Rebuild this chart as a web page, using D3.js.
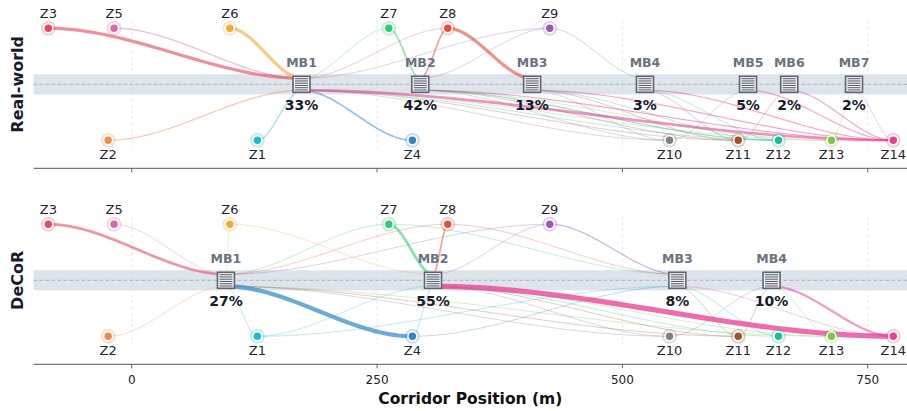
<!DOCTYPE html>
<html><head><meta charset="utf-8">
<script src="https://cdn.jsdelivr.net/npm/d3@7"></script>
<style>body{margin:0;background:#fff;} svg{display:block;font-family:"DejaVu Sans",sans-serif;}</style>
</head><body><svg id="c" width="907" height="411"></svg>
<script>
// ---------------- data ----------------
const zones      = ["Z1","Z2","Z3","Z4","Z5","Z6","Z7","Z8","Z9","Z10","Z11","Z12","Z13","Z14"];
const zonePos    = [128, -24, -85, 286, -18, 100, 262, 322, 426, 548, 618, 659, 713, 776];
const zoneRow    = [-1, -1, 1, -1, 1, 1, 1, 1, 1, -1, -1, -1, -1, -1];
const zoneColors = ["#17becf","#f28a4c","#e8485f","#2f86c8","#d96aa9","#f5a93a","#2ecc71",
                    "#e74c3c","#9b59b6","#808080","#a0522d","#1abc9c","#7dc744","#e84393"];

const realHubs   = ["MB1","MB2","MB3","MB4","MB5","MB6","MB7"];
const realPos    = [173, 294, 408, 523, 628, 670, 736];
const realShare  = ["33%","42%","13%","3%","5%","2%","2%"];
const realLinks  = [
  ["Z3","MB1",6],["Z5","MB1",2],["Z6","MB1",6],["Z2","MB1",2],["Z1","MB1",2],
  ["Z7","MB1",1],["Z8","MB1",1],["Z9","MB1",1],["Z4","MB1",3],
  ["Z10","MB1",1],["Z11","MB1",1],["Z12","MB1",1],["Z13","MB1",1],["Z14","MB1",5],
  ["Z7","MB2",3],["Z8","MB2",3],["Z9","MB2",1],
  ["Z10","MB2",1],["Z11","MB2",1],["Z12","MB2",2],["Z13","MB2",1],["Z14","MB2",2],
  ["Z8","MB3",6],["Z10","MB3",1],["Z11","MB3",1],["Z12","MB3",1],["Z14","MB3",2],
  ["Z9","MB4",1],["Z11","MB4",1],["Z12","MB4",1],["Z14","MB4",2],
  ["Z10","MB5",1],["Z14","MB5",2],
  ["Z11","MB6",1],["Z14","MB6",2],
  ["Z13","MB7",1],["Z14","MB7",1]
];

const decorHubs  = ["MB1","MB2","MB3","MB4"];
const decorPos   = [96, 307, 556, 652];
const decorShare = ["27%","55%","8%","10%"];
const decorLinks = [
  ["Z3","MB1",5],["Z5","MB1",1],["Z2","MB1",1],["Z6","MB1",1],["Z1","MB1",1],["Z4","MB1",8],
  ["Z7","MB1",1],["Z8","MB1",1],["Z9","MB1",1],
  ["Z10","MB1",1],["Z11","MB1",1],["Z13","MB1",1],
  ["Z6","MB2",1],["Z1","MB2",1],["Z7","MB2",5],["Z8","MB2",3],["Z9","MB2",1],["Z4","MB2",1],
  ["Z10","MB2",1],["Z11","MB2",1],["Z12","MB2",1],["Z13","MB2",1],["Z14","MB2",10],
  ["Z7","MB3",1],["Z8","MB3",1],["Z9","MB3",2],["Z1","MB3",1],["Z4","MB3",1],
  ["Z11","MB3",1],["Z12","MB3",1],["Z14","MB3",1],
  ["Z10","MB4",1],["Z11","MB4",1],["Z13","MB4",1],["Z14","MB4",4]
];

const xTicks     = [0, 250, 500, 750];
const panelNames = ["Real-world", "DeCoR"];

// ---------------- drawing ----------------
const svg = d3.select("#c");
const W = 907;
const x = d3.scaleLinear().domain([-100, 790]).range([33.6, 907]);
const wScale = d3.scaleLinear().domain([1, 10]).range([0.7, 5.2]);
const oScale = d3.scaleLinear().domain([1, 10]).range([0.42, 0.78]);
const zIdx = {}; zones.forEach((z, i) => zIdx[z] = i);

const panels = [
  {name: panelNames[0], top: 0.3, hubs: realHubs, pos: realPos, share: realShare, links: realLinks, labels: false},
  {name: panelNames[1], top: 196.3, hubs: decorHubs, pos: decorPos, share: decorShare, links: decorLinks, labels: true}
];

function smoothPath(x0, y0, x1, y1) {
  const pts = d3.range(0, 41).map(i => {
    const t = i / 40, s = 3*t*t - 2*t*t*t;
    return [x0 + (x1 - x0) * t, y0 + (y1 - y0) * s];
  });
  return d3.line()(pts);
}

panels.forEach(p => {
  const y = d3.scaleLinear().domain([-1.5, 1.5]).range([p.top + 168, p.top]);
  const g = svg.append("g");
  const hIdx = {}; p.hubs.forEach((h, i) => hIdx[h] = i);

  // band
  g.append("rect").attr("x", x(-100)).attr("width", W - x(-100))
    .attr("y", y(0.18)).attr("height", y(-0.18) - y(0.18))
    .attr("fill", "#dde4ec");
  g.append("line").attr("x1", x(-100)).attr("x2", W).attr("y1", y(0)).attr("y2", y(0))
    .attr("stroke", "#a3acb8").attr("stroke-width", 0.9).attr("stroke-dasharray", "3.5,2.5");

  // grid
  g.selectAll(".grid").data(xTicks).enter().append("line")
    .attr("x1", d => x(d)).attr("x2", d => x(d))
    .attr("y1", y(1.14)).attr("y2", y(-1.14))
    .attr("stroke", "#d9dde3").attr("stroke-width", 0.7).attr("stroke-dasharray", "3,3");

  // axis spine + ticks
  g.append("line").attr("x1", x(-100)).attr("x2", W).attr("y1", y(-1.5)).attr("y2", y(-1.5))
    .attr("stroke", "#555").attr("stroke-width", 1);
  g.selectAll(".tick").data(xTicks).enter().append("line")
    .attr("x1", d => x(d)).attr("x2", d => x(d))
    .attr("y1", y(-1.5)).attr("y2", y(-1.5) + 4)
    .attr("stroke", "#555").attr("stroke-width", 0.9);
  if (p.labels) {
    g.selectAll(".tl").data(xTicks).enter().append("text")
      .attr("x", d => x(d)).attr("y", y(-1.5) + 20)
      .attr("text-anchor", "middle").attr("font-size", 12).attr("fill", "#222")
      .text(d => d);
  }

  // links (thin first)
  const links = p.links.slice().sort((a, b) => a[2] - b[2]);
  g.selectAll(".link").data(links).enter().append("path")
    .attr("d", d => {
      const zi = zIdx[d[0]], hi = hIdx[d[1]];
      const zx = x(zonePos[zi]), zy = y(zoneRow[zi]);
      const hx = x(p.pos[hi]), hy = y(0) + (zoneRow[zi] > 0 ? -6 : 6);
      return smoothPath(hx, hy, zx, zy);
    })
    .attr("fill", "none")
    .attr("stroke", d => zoneColors[zIdx[d[0]]])
    .attr("stroke-width", d => wScale(d[2]))
    .attr("stroke-opacity", d => oScale(d[2]))
    .attr("stroke-linecap", "round");

  // zone markers
  const zg = g.selectAll(".zone").data(zones).enter().append("g")
    .attr("transform", (d, i) => `translate(${x(zonePos[i])},${y(zoneRow[i])})`);
  zg.append("circle").attr("r", 7).attr("fill", (d, i) => zoneColors[i]).attr("fill-opacity", 0.22)
    .attr("stroke", (d, i) => zoneColors[i]).attr("stroke-opacity", 0.25).attr("stroke-width", 0.8);
  zg.append("circle").attr("r", 5.2).attr("fill", "#fff");
  zg.append("circle").attr("r", 3.7).attr("fill", (d, i) => zoneColors[i]);
  zg.append("text").attr("text-anchor", "middle")
    .attr("y", (d, i) => zoneRow[i] > 0 ? -10 : 19)
    .attr("font-size", 13).attr("fill", "#1f2533").text(d => d);

  // hubs
  const hg = g.selectAll(".hub").data(p.hubs).enter().append("g")
    .attr("transform", (d, i) => `translate(${x(p.pos[i])},${y(0)})`);
  hg.append("rect").attr("x", -8.5).attr("y", -8).attr("width", 17).attr("height", 16)
    .attr("fill", "#f4f5f7").attr("stroke", "#5d6471").attr("stroke-width", 1.6);
  hg.each(function() {
    const h = d3.select(this);
    d3.range(6).forEach(k => {
      h.append("line").attr("x1", -6.5).attr("x2", 6.5)
        .attr("y1", -5.6 + k * 2.25).attr("y2", -5.6 + k * 2.25)
        .attr("stroke", "#5d6471").attr("stroke-width", 1.1);
    });
  });
  hg.append("text").attr("text-anchor", "middle").attr("y", -17)
    .attr("font-size", 12.5).attr("font-weight", "bold").attr("fill", "#6b7280").text(d => d);
  hg.append("text").attr("text-anchor", "middle").attr("y", 26)
    .attr("font-size", 14).attr("font-weight", "bold").attr("fill", "#161b2e")
    .text((d, i) => p.share[i]);

  // panel label
  g.append("text").attr("transform", `translate(23,${y(0)}) rotate(-90)`)
    .attr("text-anchor", "middle").attr("font-size", 16).attr("font-weight", "bold")
    .attr("fill", "#161b2e").text(p.name);
});

svg.append("text").attr("x", x(345)).attr("y", 404).attr("text-anchor", "middle")
  .attr("font-size", 15.5).attr("font-weight", "bold").attr("fill", "#111")
  .text("Corridor Position (m)");
</script></body></html>
